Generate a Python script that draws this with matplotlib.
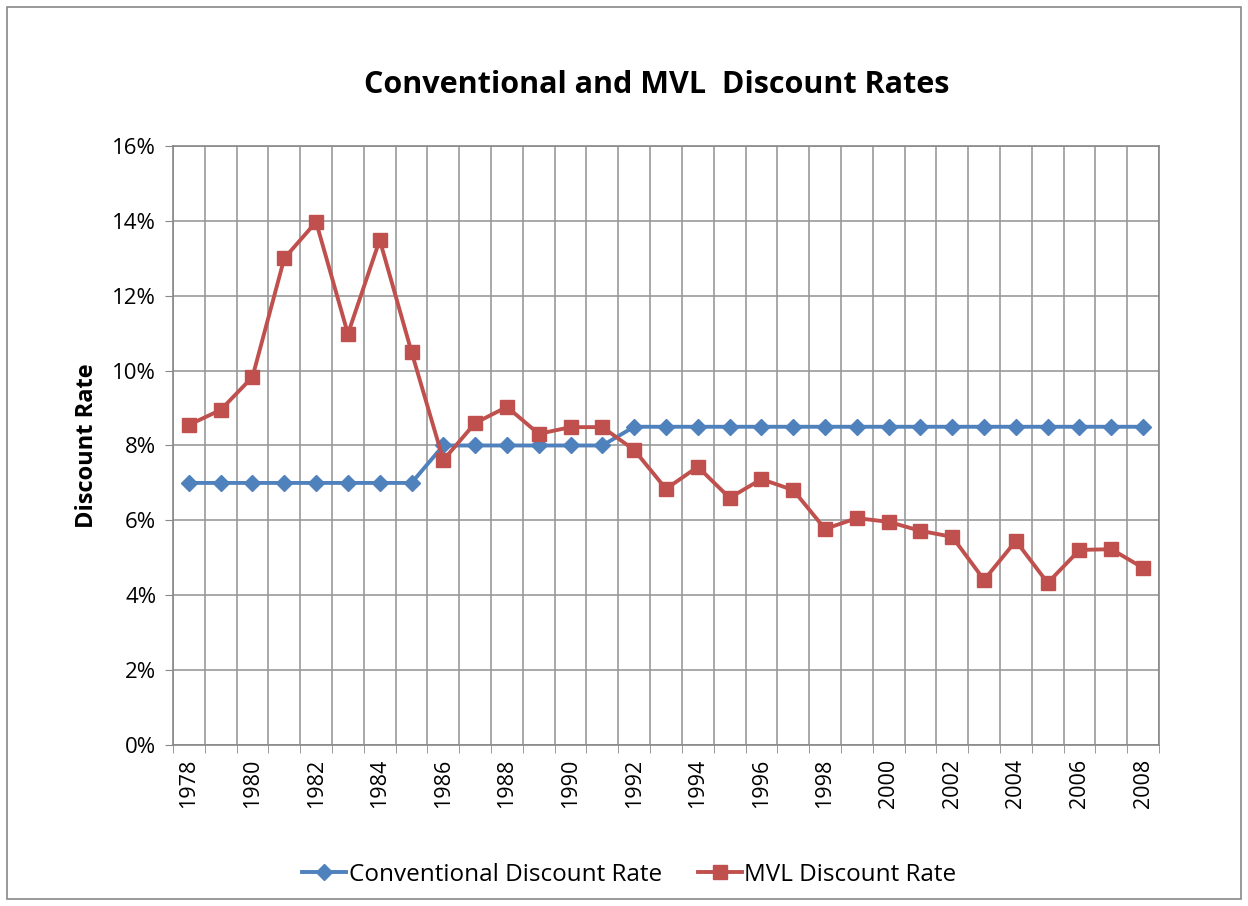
"""
Conventional vs MVL discount rates, 1978-2008.
"""

import matplotlib

matplotlib.use("Agg")
import matplotlib.pyplot as plt
from matplotlib.patches import Rectangle
from matplotlib.ticker import FuncFormatter

years = list(range(1978, 2009))
conventional = [7.0] * 8 + [8.0] * 6 + [8.5] * 17
mvl = [
    8.55, 8.95, 9.83, 13.0, 13.97, 10.98, 13.49, 10.5, 7.61, 8.6,
    9.03, 8.31, 8.49, 8.49, 7.88, 6.84, 7.43, 6.6, 7.1, 6.81,
    5.77, 6.06, 5.96, 5.72, 5.56, 4.41, 5.45, 4.33, 5.21, 5.23, 4.73,
]
tick_years = years[::2]

plt.rcParams["font.family"] = ["Open Sans", "DejaVu Sans"]

fig = plt.figure(figsize=(12.48, 9.06), dpi=100)
ax = fig.add_axes([0.1386, 0.1777, 0.7901, 0.6612])

blue = "#4F81BD"
red = "#C0504D"
x = list(range(len(years)))
ax.plot(x, conventional, color=blue, linewidth=2.8, marker="D", markersize=8,
        label="Conventional Discount Rate", zorder=3)
ax.plot(x, mvl, color=red, linewidth=2.8, marker="s", markersize=10,
        label="MVL Discount Rate", zorder=4)

ax.set_xlim(-0.5, len(years) - 0.5)
ax.set_ylim(0, 16)
ax.set_yticks(range(0, 17, 2))
ax.yaxis.set_major_formatter(FuncFormatter(lambda v, _: f"{v:.0f}%"))
ax.set_xticks([years.index(y) for y in tick_years])
ax.set_xticklabels([str(y) for y in tick_years], rotation=90)
ax.set_xticks([i - 0.5 for i in range(len(years) + 1)], minor=True)
ax.tick_params(axis="x", which="major", length=0, pad=10, labelsize=15.5)
ax.tick_params(axis="x", which="minor", length=6, color="#888888")
ax.tick_params(axis="y", length=6, color="#888888", labelsize=16, pad=6)
ax.grid(True, axis="y", color="#999999", linewidth=1.2)
ax.grid(True, axis="x", which="minor", color="#999999", linewidth=1.2)
ax.set_axisbelow(True)
for spine in ax.spines.values():
    spine.set_color("#888888")
    spine.set_linewidth(1.2)

ax.set_ylabel("Discount Rate", fontsize=17, fontweight="bold", labelpad=10)
fig.text(0.526, 0.906, "Conventional and MVL  Discount Rates", ha="center",
         va="center", fontsize=22, fontweight="bold")

ax.legend(loc="upper center", bbox_to_anchor=(0.463, -0.16), ncol=2,
          frameon=False, fontsize=17.5, handlelength=1.8, columnspacing=1.5,
          handletextpad=0.1)

fig.patches.append(Rectangle((7 / 1248, 7 / 906), 1234 / 1248, 892 / 906,
                             transform=fig.transFigure, fill=False,
                             edgecolor="#888888", linewidth=1.2))

fig.savefig("out.png", dpi=100)
